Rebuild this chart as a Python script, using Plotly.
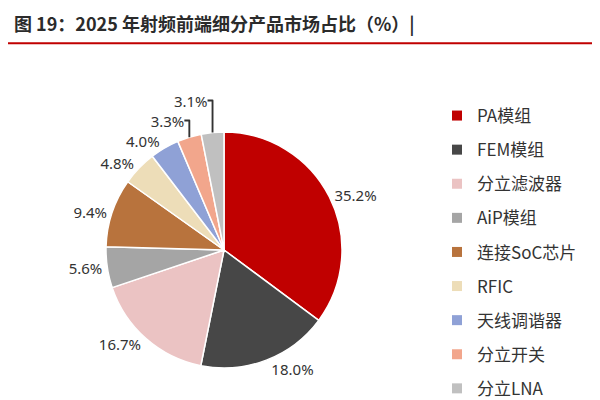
import plotly.graph_objects as go

labels = ["PA模组", "FEM模组", "分立滤波器", "AiP模组", "连接SoC芯片", "RFIC", "天线调谐器", "分立开关", "分立LNA"]
values = [35.2, 18.0, 16.7, 5.6, 9.4, 4.8, 4.0, 3.3, 3.1]
colors = ["#C00000", "#474747", "#EBC3C3", "#A5A5A5", "#B8733D", "#EDDDB8", "#8FA1D6", "#F2A68C", "#C0C0C0"]

fig = go.Figure(go.Pie(
    labels=labels, values=values, sort=False, direction="clockwise", rotation=0,
    marker=dict(colors=colors, line=dict(color="white", width=1.5)),
    texttemplate="%{value:.1f}%", textposition="outside",
    textfont=dict(size=15, color="#333", family="Noto Sans"),
    domain=dict(x=[0.16, 0.56], y=[0.1, 0.69]), showlegend=False,
))
for lab, col in zip(labels, colors):
    fig.add_trace(go.Scatter(x=[None], y=[None], mode="markers", name=lab, legendgroup=lab,
                             marker=dict(symbol="square", size=10, color=col)))
fig.update_xaxes(visible=False)
fig.update_yaxes(visible=False)
fig.update_layout(
    width=600, height=400, margin=dict(l=0, r=0, t=0, b=0),
    paper_bgcolor="white", plot_bgcolor="white", font=dict(family="Noto Sans CJK SC"),
    legend=dict(x=0.715, y=0.775, yanchor="top", xanchor="left",
                font=dict(size=17, color="#333"), itemwidth=30, tracegroupgap=9),
    title=dict(text="<b>图 19：2025 年射频前端细分产品市场占比（%）|</b>",
               x=0.01, xanchor="left", y=0.975, yanchor="top",
               font=dict(size=18, color="#2b2b2b", family="Noto Sans CJK SC")),
    shapes=[dict(type="line", xref="paper", yref="paper", x0=0, x1=1, y0=0.912, y1=0.912,
                 line=dict(color="#C00000", width=2))],
)
fig.write_html("out.html")
